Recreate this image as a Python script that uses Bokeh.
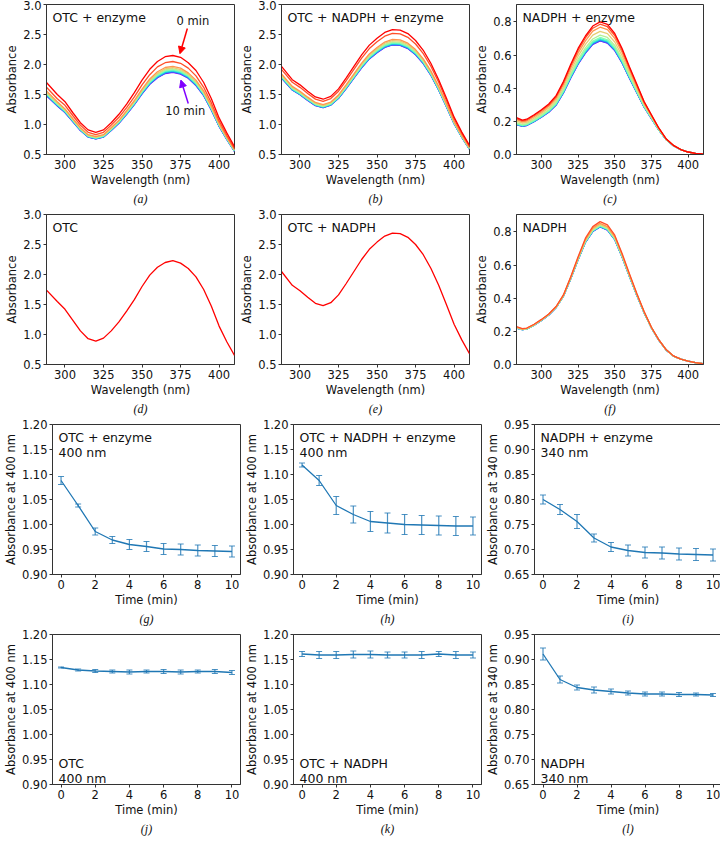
from bokeh.plotting import figure
from bokeh.models import (Range1d, FixedTicker, NumeralTickFormatter, Label, Title,
                          Arrow, NormalHead, Whisker, TeeHead, ColumnDataSource)
from bokeh.layouts import column, row
from bokeh.embed import file_html
from bokeh.resources import INLINE

# ---------------------------------------------------------------- data
MINUTES = [0, 1, 2, 3, 4, 5, 6, 7, 8, 9, 10]
CURVE_COLORS = ["#ff0000", "#ff4f28", "#ff964f", "#e6ce74", "#b3f296", "#80ffb4",
                "#4df2ce", "#1acee3", "#1a96f2", "#4d4ffc", "#8000ff"]

WL_OTC = [288, 295, 300, 305, 310, 315, 320, 325, 330, 335, 340, 345, 350, 355, 360,
          365, 370, 375, 380, 385, 390, 395, 400, 405, 410]
WL_NADPH = [283, 287, 290, 295, 300, 305, 310, 315, 320, 325, 330, 335, 340, 345, 350,
            355, 360, 365, 370, 375, 380, 385, 390, 395, 400, 405, 410]

# (a) OTC + enzyme, one row per minute 0..10
SPEC_OTC_ENZ = [
    [1.70, 1.50, 1.38, 1.20, 1.03, 0.91, 0.87, 0.91, 1.03, 1.17, 1.34, 1.53, 1.74, 1.92, 2.05, 2.13, 2.15, 2.12, 2.03, 1.90, 1.70, 1.43, 1.11, 0.86, 0.63],
    [1.62, 1.43, 1.32, 1.15, 0.99, 0.87, 0.83, 0.87, 0.99, 1.12, 1.28, 1.46, 1.66, 1.83, 1.96, 2.03, 2.05, 2.02, 1.94, 1.81, 1.62, 1.36, 1.06, 0.82, 0.60],
    [1.56, 1.38, 1.26, 1.10, 0.95, 0.83, 0.80, 0.83, 0.95, 1.07, 1.23, 1.40, 1.59, 1.76, 1.88, 1.95, 1.97, 1.94, 1.86, 1.74, 1.56, 1.31, 1.02, 0.79, 0.58],
    [1.539, 1.361, 1.249, 1.091, 0.935, 0.822, 0.790, 0.822, 0.935, 1.061, 1.216, 1.384, 1.572, 1.738, 1.853, 1.926, 1.946, 1.916, 1.840, 1.718, 1.539, 1.291, 1.008, 0.780, 0.572],
    [1.526, 1.350, 1.238, 1.082, 0.927, 0.815, 0.783, 0.815, 0.927, 1.052, 1.206, 1.372, 1.558, 1.723, 1.837, 1.909, 1.929, 1.899, 1.825, 1.703, 1.526, 1.280, 0.999, 0.773, 0.567],
    [1.515, 1.340, 1.229, 1.074, 0.921, 0.809, 0.778, 0.809, 0.921, 1.044, 1.197, 1.362, 1.547, 1.710, 1.823, 1.895, 1.915, 1.885, 1.812, 1.690, 1.515, 1.270, 0.992, 0.768, 0.563],
    [1.506, 1.333, 1.222, 1.068, 0.916, 0.804, 0.773, 0.804, 0.916, 1.038, 1.190, 1.354, 1.538, 1.700, 1.812, 1.884, 1.904, 1.874, 1.801, 1.680, 1.506, 1.263, 0.987, 0.763, 0.560],
    [1.498, 1.325, 1.214, 1.062, 0.910, 0.800, 0.769, 0.800, 0.910, 1.032, 1.184, 1.346, 1.528, 1.690, 1.802, 1.872, 1.892, 1.862, 1.791, 1.670, 1.498, 1.255, 0.981, 0.759, 0.556],
    [1.491, 1.320, 1.209, 1.058, 0.907, 0.796, 0.766, 0.796, 0.907, 1.028, 1.179, 1.340, 1.522, 1.683, 1.794, 1.864, 1.884, 1.854, 1.783, 1.663, 1.491, 1.250, 0.977, 0.756, 0.554],
    [1.484, 1.314, 1.204, 1.053, 0.903, 0.792, 0.762, 0.792, 0.903, 1.023, 1.173, 1.334, 1.515, 1.675, 1.785, 1.856, 1.876, 1.846, 1.775, 1.655, 1.484, 1.244, 0.973, 0.752, 0.552],
    [1.48, 1.31, 1.20, 1.05, 0.90, 0.79, 0.76, 0.79, 0.90, 1.02, 1.17, 1.33, 1.51, 1.67, 1.78, 1.85, 1.87, 1.84, 1.77, 1.65, 1.48, 1.24, 0.97, 0.75, 0.55],
]

# (b) OTC + NADPH + enzyme, minutes 0..10
SPEC_OTC_NADPH_ENZ = [
    [1.968, 1.747, 1.661, 1.555, 1.459, 1.421, 1.469, 1.594, 1.776, 1.968, 2.160, 2.323, 2.438, 2.534, 2.582, 2.573, 2.515, 2.400, 2.237, 2.016, 1.747, 1.440, 1.123, 0.874, 0.653],
    [1.919, 1.704, 1.619, 1.517, 1.423, 1.386, 1.432, 1.555, 1.732, 1.919, 2.107, 2.266, 2.378, 2.472, 2.519, 2.509, 2.453, 2.342, 2.181, 1.967, 1.704, 1.405, 1.095, 0.852, 0.637],
    [1.843, 1.636, 1.555, 1.456, 1.367, 1.331, 1.375, 1.493, 1.663, 1.843, 2.023, 2.176, 2.284, 2.374, 2.419, 2.410, 2.356, 2.249, 2.095, 1.889, 1.636, 1.349, 1.052, 0.818, 0.611],
    [1.828, 1.622, 1.542, 1.444, 1.355, 1.319, 1.364, 1.480, 1.649, 1.828, 2.006, 2.157, 2.264, 2.354, 2.399, 2.389, 2.336, 2.230, 2.077, 1.873, 1.622, 1.338, 1.043, 0.811, 0.606],
    [1.812, 1.609, 1.529, 1.432, 1.344, 1.308, 1.352, 1.468, 1.635, 1.812, 1.989, 2.139, 2.245, 2.334, 2.378, 2.369, 2.316, 2.211, 2.059, 1.857, 1.609, 1.327, 1.034, 0.804, 0.601],
    [1.802, 1.600, 1.521, 1.424, 1.337, 1.301, 1.345, 1.460, 1.626, 1.802, 1.978, 2.128, 2.233, 2.322, 2.365, 2.356, 2.303, 2.199, 2.048, 1.847, 1.600, 1.319, 1.029, 0.800, 0.598],
    [1.794, 1.593, 1.514, 1.418, 1.331, 1.296, 1.339, 1.453, 1.619, 1.794, 1.970, 2.118, 2.224, 2.312, 2.355, 2.346, 2.293, 2.189, 2.039, 1.839, 1.593, 1.314, 1.024, 0.796, 0.595],
    [1.787, 1.586, 1.507, 1.412, 1.325, 1.290, 1.333, 1.447, 1.612, 1.787, 1.961, 2.109, 2.214, 2.302, 2.345, 2.336, 2.283, 2.180, 2.030, 1.831, 1.586, 1.308, 1.020, 0.793, 0.593],
    [1.781, 1.581, 1.503, 1.407, 1.321, 1.286, 1.329, 1.442, 1.607, 1.781, 1.955, 2.102, 2.207, 2.294, 2.337, 2.328, 2.276, 2.173, 2.024, 1.825, 1.581, 1.304, 1.016, 0.790, 0.591],
    [1.777, 1.577, 1.499, 1.404, 1.318, 1.283, 1.326, 1.439, 1.604, 1.777, 1.950, 2.098, 2.202, 2.289, 2.332, 2.323, 2.271, 2.168, 2.019, 1.821, 1.577, 1.301, 1.014, 0.789, 0.589],
    [1.773, 1.574, 1.496, 1.401, 1.315, 1.280, 1.323, 1.436, 1.600, 1.773, 1.946, 2.093, 2.197, 2.284, 2.327, 2.318, 2.266, 2.163, 2.015, 1.817, 1.574, 1.298, 1.012, 0.787, 0.588],
]

# (c) NADPH + enzyme, minutes 0..10
SPEC_NADPH_ENZ = [
    [0.222, 0.207, 0.213, 0.240, 0.270, 0.305, 0.355, 0.440, 0.545, 0.640, 0.715, 0.775, 0.800, 0.785, 0.730, 0.640, 0.530, 0.425, 0.320, 0.240, 0.160, 0.095, 0.055, 0.030, 0.015, 0.007, 0.003],
    [0.217, 0.203, 0.208, 0.235, 0.265, 0.299, 0.348, 0.432, 0.535, 0.629, 0.703, 0.762, 0.786, 0.771, 0.718, 0.629, 0.522, 0.419, 0.316, 0.237, 0.159, 0.094, 0.055, 0.030, 0.015, 0.007, 0.003],
    [0.210, 0.197, 0.202, 0.228, 0.257, 0.291, 0.339, 0.421, 0.522, 0.613, 0.686, 0.744, 0.768, 0.753, 0.701, 0.615, 0.511, 0.410, 0.310, 0.234, 0.157, 0.094, 0.054, 0.030, 0.015, 0.007, 0.003],
    [0.201, 0.189, 0.194, 0.219, 0.248, 0.280, 0.327, 0.406, 0.504, 0.593, 0.664, 0.720, 0.743, 0.729, 0.679, 0.596, 0.496, 0.399, 0.303, 0.229, 0.154, 0.093, 0.054, 0.030, 0.015, 0.007, 0.003],
    [0.193, 0.181, 0.186, 0.211, 0.239, 0.270, 0.315, 0.392, 0.487, 0.574, 0.643, 0.697, 0.720, 0.706, 0.658, 0.578, 0.482, 0.389, 0.296, 0.224, 0.152, 0.092, 0.054, 0.029, 0.015, 0.007, 0.003],
    [0.188, 0.177, 0.182, 0.206, 0.233, 0.264, 0.308, 0.384, 0.477, 0.562, 0.631, 0.684, 0.706, 0.692, 0.646, 0.568, 0.473, 0.382, 0.292, 0.221, 0.150, 0.091, 0.053, 0.029, 0.015, 0.007, 0.003],
    [0.185, 0.174, 0.180, 0.203, 0.230, 0.261, 0.305, 0.380, 0.472, 0.556, 0.624, 0.677, 0.699, 0.686, 0.639, 0.563, 0.469, 0.379, 0.290, 0.220, 0.149, 0.091, 0.053, 0.029, 0.015, 0.007, 0.003],
    [0.183, 0.173, 0.178, 0.201, 0.229, 0.259, 0.303, 0.377, 0.469, 0.553, 0.620, 0.673, 0.694, 0.681, 0.635, 0.559, 0.467, 0.377, 0.289, 0.219, 0.149, 0.090, 0.053, 0.029, 0.015, 0.007, 0.003],
    [0.182, 0.172, 0.177, 0.200, 0.227, 0.258, 0.301, 0.375, 0.466, 0.550, 0.617, 0.670, 0.691, 0.678, 0.632, 0.556, 0.464, 0.376, 0.288, 0.218, 0.149, 0.090, 0.053, 0.029, 0.015, 0.007, 0.003],
    [0.181, 0.171, 0.176, 0.199, 0.226, 0.256, 0.299, 0.373, 0.464, 0.547, 0.614, 0.666, 0.687, 0.674, 0.629, 0.554, 0.462, 0.374, 0.287, 0.217, 0.148, 0.090, 0.053, 0.029, 0.015, 0.007, 0.003],
    [0.180, 0.170, 0.175, 0.198, 0.225, 0.255, 0.298, 0.372, 0.462, 0.545, 0.612, 0.664, 0.685, 0.672, 0.627, 0.552, 0.461, 0.373, 0.286, 0.217, 0.148, 0.090, 0.053, 0.029, 0.015, 0.007, 0.003],
]

# (d) OTC alone (all minutes overlap)
SPEC_OTC = [1.74, 1.55, 1.42, 1.24, 1.06, 0.93, 0.89, 0.94, 1.06, 1.21, 1.39, 1.58, 1.80, 1.99,
            2.12, 2.20, 2.23, 2.19, 2.10, 1.96, 1.75, 1.47, 1.14, 0.88, 0.65]
# (e) OTC + NADPH (all minutes overlap)
SPEC_OTC_NADPH = [2.05, 1.82, 1.73, 1.62, 1.52, 1.48, 1.53, 1.66, 1.85, 2.05, 2.25, 2.42, 2.54, 2.64,
                  2.69, 2.68, 2.62, 2.50, 2.33, 2.10, 1.82, 1.50, 1.17, 0.91, 0.68]

# (f) NADPH alone, minutes 1..10
SPEC_NADPH_MINUTES = [1, 2, 3, 4, 5, 6, 7, 8, 9, 10]
SPEC_NADPH = [
    [0.228, 0.216, 0.220, 0.243, 0.272, 0.305, 0.350, 0.420, 0.530, 0.650, 0.762, 0.832, 0.862, 0.842, 0.780, 0.670, 0.548, 0.430, 0.320, 0.225, 0.150, 0.090, 0.052, 0.032, 0.021, 0.011, 0.005],
    [0.226, 0.214, 0.218, 0.241, 0.270, 0.303, 0.348, 0.418, 0.526, 0.644, 0.754, 0.823, 0.852, 0.832, 0.772, 0.663, 0.543, 0.426, 0.318, 0.223, 0.149, 0.089, 0.052, 0.032, 0.021, 0.011, 0.005],
    [0.224, 0.213, 0.217, 0.240, 0.269, 0.302, 0.346, 0.416, 0.524, 0.640, 0.749, 0.816, 0.845, 0.826, 0.766, 0.658, 0.539, 0.424, 0.316, 0.222, 0.148, 0.089, 0.051, 0.032, 0.021, 0.011, 0.005],
    [0.222, 0.212, 0.216, 0.239, 0.268, 0.301, 0.345, 0.414, 0.522, 0.638, 0.745, 0.811, 0.840, 0.821, 0.761, 0.655, 0.536, 0.422, 0.314, 0.222, 0.148, 0.089, 0.051, 0.032, 0.021, 0.011, 0.005],
    [0.222, 0.211, 0.215, 0.238, 0.267, 0.300, 0.345, 0.414, 0.521, 0.636, 0.743, 0.809, 0.837, 0.818, 0.759, 0.653, 0.535, 0.421, 0.314, 0.221, 0.148, 0.088, 0.051, 0.032, 0.021, 0.011, 0.005],
    [0.221, 0.211, 0.215, 0.238, 0.267, 0.300, 0.344, 0.413, 0.520, 0.635, 0.741, 0.807, 0.835, 0.816, 0.757, 0.652, 0.534, 0.420, 0.313, 0.221, 0.147, 0.088, 0.051, 0.032, 0.021, 0.011, 0.005],
    [0.221, 0.211, 0.215, 0.238, 0.267, 0.300, 0.344, 0.413, 0.519, 0.634, 0.739, 0.805, 0.833, 0.814, 0.755, 0.650, 0.533, 0.419, 0.313, 0.220, 0.147, 0.088, 0.051, 0.032, 0.021, 0.011, 0.005],
    [0.220, 0.210, 0.214, 0.237, 0.266, 0.299, 0.343, 0.412, 0.519, 0.633, 0.739, 0.804, 0.832, 0.813, 0.755, 0.649, 0.532, 0.419, 0.312, 0.220, 0.147, 0.088, 0.051, 0.032, 0.021, 0.011, 0.005],
    [0.220, 0.210, 0.214, 0.237, 0.266, 0.299, 0.343, 0.412, 0.518, 0.633, 0.738, 0.803, 0.831, 0.812, 0.754, 0.649, 0.532, 0.418, 0.312, 0.220, 0.147, 0.088, 0.051, 0.032, 0.021, 0.011, 0.005],
    [0.220, 0.210, 0.214, 0.237, 0.266, 0.299, 0.343, 0.412, 0.518, 0.632, 0.737, 0.802, 0.830, 0.811, 0.753, 0.648, 0.531, 0.418, 0.312, 0.220, 0.147, 0.088, 0.051, 0.032, 0.021, 0.011, 0.005],
]

# time courses (mean, error) at 0..10 min
KIN_G_MEAN = [1.088, 1.038, 0.986, 0.969, 0.960, 0.956, 0.951, 0.950, 0.948, 0.947, 0.946]
KIN_G_ERR = [0.008, 0.003, 0.007, 0.007, 0.010, 0.010, 0.011, 0.011, 0.011, 0.011, 0.011]
KIN_H_MEAN = [1.119, 1.088, 1.038, 1.020, 1.006, 1.003, 1.000, 0.999, 0.998, 0.997, 0.997]
KIN_H_ERR = [0.004, 0.010, 0.018, 0.017, 0.020, 0.020, 0.020, 0.019, 0.019, 0.019, 0.018]
KIN_I_MEAN = [0.800, 0.780, 0.756, 0.723, 0.705, 0.698, 0.694, 0.693, 0.691, 0.690, 0.689]
KIN_I_ERR = [0.009, 0.010, 0.014, 0.008, 0.009, 0.011, 0.011, 0.012, 0.012, 0.012, 0.012]
KIN_J_MEAN = [1.134, 1.129, 1.127, 1.126, 1.125, 1.126, 1.126, 1.125, 1.126, 1.126, 1.124]
KIN_J_ERR = [0.001, 0.002, 0.003, 0.003, 0.004, 0.003, 0.004, 0.004, 0.003, 0.004, 0.004]
KIN_K_MEAN = [1.161, 1.159, 1.159, 1.160, 1.160, 1.159, 1.159, 1.159, 1.161, 1.159, 1.159]
KIN_K_ERR = [0.005, 0.007, 0.007, 0.007, 0.007, 0.006, 0.006, 0.007, 0.005, 0.007, 0.006]
KIN_L_MEAN = [0.911, 0.860, 0.844, 0.839, 0.836, 0.833, 0.831, 0.831, 0.830, 0.830, 0.829]
KIN_L_ERR = [0.012, 0.007, 0.005, 0.006, 0.005, 0.004, 0.004, 0.004, 0.004, 0.003, 0.003]

WL_TICKS = [300, 325, 350, 375, 400]
ABS_TICKS_OTC = [0.5, 1.0, 1.5, 2.0, 2.5, 3.0]
ABS_TICKS_NADPH = [0.0, 0.2, 0.4, 0.6, 0.8]
TIME_TICKS = [0, 2, 4, 6, 8, 10]
KIN_TICKS_400 = [0.90, 0.95, 1.00, 1.05, 1.10, 1.15, 1.20]
KIN_TICKS_340 = [0.65, 0.70, 0.75, 0.80, 0.85, 0.90, 0.95]

# ---------------------------------------------------------------- style
FONT = "DejaVu Sans"
CAPTION_FONT = "Liberation Serif"
AXIS_COLOR = "#333333"
TEXT_COLOR = "#111111"
KIN_COLOR = "#1f77b4"
TICK_FONT = "11.5px"
FRAME_H = 150
LEFT = 46
RANGE_OTC_X = (288, 410)
RANGE_NADPH_X = (283, 410.5)
RANGE_OTC_Y = (0.5, 3.0)
RANGE_NADPH_Y = (0.0, 0.905)
RANGE_T = (-0.5, 10.5)
RANGE_400 = (0.90, 1.20)
RANGE_340 = (0.65, 0.95)


def styled(xr, yr, xticks, yticks, yfmt, xlabel, ylabel, caption, top, fw):
    p = figure(frame_width=fw, frame_height=FRAME_H,
               x_range=Range1d(*xr), y_range=Range1d(*yr),
               output_backend="svg", toolbar_location=None,
               min_border_left=LEFT, min_border_right=1, min_border_top=top,
               min_border_bottom=0,
               background_fill_color="white", border_fill_color="white")
    p.outline_line_color = AXIS_COLOR
    p.outline_line_width = 1
    p.xgrid.visible = False
    p.ygrid.visible = False
    p.xaxis.ticker = FixedTicker(ticks=xticks)
    p.yaxis.ticker = FixedTicker(ticks=yticks)
    p.yaxis.formatter = NumeralTickFormatter(format=yfmt)
    p.xaxis.axis_label = xlabel
    p.yaxis.axis_label = ylabel
    for ax in (p.xaxis[0], p.yaxis[0]):
        ax.axis_line_color = AXIS_COLOR
        ax.major_tick_line_color = AXIS_COLOR
        ax.major_tick_out = 3
        ax.major_tick_in = 0
        ax.minor_tick_line_color = None
        ax.major_label_text_font = FONT
        ax.major_label_text_font_size = TICK_FONT
        ax.major_label_text_color = TEXT_COLOR
        ax.major_label_standoff = 2
        ax.axis_label_text_font = FONT
        ax.axis_label_text_font_size = TICK_FONT
        ax.axis_label_text_font_style = "normal"
        ax.axis_label_text_color = TEXT_COLOR
        ax.axis_label_standoff = 1
    p.add_layout(Title(text=caption, align="center", text_font=CAPTION_FONT,
                       text_font_style="italic", text_font_size="12px",
                       text_color=TEXT_COLOR, standoff=1), "below")
    return p


def add_text(p, xr, yr, lines, at_top):
    n = len(lines)
    for i, txt in enumerate(lines):
        if at_top:
            lab = Label(x=xr[0], y=yr[1], x_offset=6, y_offset=-5 - 15 * i, text=txt,
                        text_baseline="top")
        else:
            lab = Label(x=xr[0], y=yr[0], x_offset=6, y_offset=6 + 15 * (n - 1 - i), text=txt,
                        text_baseline="alphabetic")
        lab.text_font = FONT
        lab.text_font_size = "12.5px"
        lab.text_color = TEXT_COLOR
        p.add_layout(lab)


def spectrum_panel(wl, rows, minutes, xr, yr, yticks, caption, lines, top, fw):
    p = styled(xr, yr, WL_TICKS, yticks, "0.0", "Wavelength (nm)", "Absorbance",
               caption, top, fw)
    for vals, m in reversed(list(zip(rows, minutes))):
        p.line(wl, vals, line_color=CURVE_COLORS[m], line_width=1.3)
    add_text(p, xr, yr, lines, True)
    return p


def kinetic_panel(mean, err, yr, yticks, ylabel, caption, lines, at_top, top, fw):
    p = styled(RANGE_T, yr, TIME_TICKS, yticks, "0.00", "Time (min)", ylabel,
               caption, top, fw)
    src = ColumnDataSource(dict(t=MINUTES, mean=mean,
                                lower=[m - e for m, e in zip(mean, err)],
                                upper=[m + e for m, e in zip(mean, err)]))
    head = dict(size=6, line_color=KIN_COLOR, line_width=1.2, line_alpha=0.8)
    p.add_layout(Whisker(source=src, base="t", lower="lower", upper="upper",
                         line_color=KIN_COLOR, line_width=1.2, line_alpha=0.8,
                         upper_head=TeeHead(**head), lower_head=TeeHead(**head)))
    p.line("t", "mean", source=src, line_color=KIN_COLOR, line_width=1.3)
    add_text(p, RANGE_T, yr, lines, at_top)
    return p


FW = [188, 188, 187]
TOP_FIRST = 4
TOP_REST = 8

pa = spectrum_panel(WL_OTC, SPEC_OTC_ENZ, MINUTES, RANGE_OTC_X, RANGE_OTC_Y, ABS_TICKS_OTC,
                    "(a)", ["OTC + enzyme"], TOP_FIRST, FW[0])
# annotations of panel (a)
pa.add_layout(Label(x=383, y=2.72, text="0 min", text_align="center", text_baseline="middle",
                    text_font=FONT, text_font_size="11.5px", text_color=TEXT_COLOR))
pa.add_layout(Label(x=378, y=1.22, text="10 min", text_align="center", text_baseline="middle",
                    text_font=FONT, text_font_size="11.5px", text_color=TEXT_COLOR))
pa.add_layout(Arrow(end=NormalHead(size=7, fill_color="#ff0000", line_color="#ff0000"),
                    x_start=379.4, y_start=2.60, x_end=374.6, y_end=2.18,
                    line_color="#ff0000", line_width=1.5))
pa.add_layout(Arrow(end=NormalHead(size=7, fill_color="#8000ff", line_color="#8000ff"),
                    x_start=380, y_start=1.35, x_end=375.2, y_end=1.74,
                    line_color="#8000ff", line_width=1.5))

pb = spectrum_panel(WL_OTC, SPEC_OTC_NADPH_ENZ, MINUTES, RANGE_OTC_X, RANGE_OTC_Y, ABS_TICKS_OTC,
                    "(b)", ["OTC + NADPH + enzyme"], TOP_FIRST, FW[1])
pc = spectrum_panel(WL_NADPH, SPEC_NADPH_ENZ, MINUTES, RANGE_NADPH_X, RANGE_NADPH_Y,
                    ABS_TICKS_NADPH, "(c)", ["NADPH + enzyme"], TOP_FIRST, FW[2])
pd = spectrum_panel(WL_OTC, [SPEC_OTC], [0], RANGE_OTC_X, RANGE_OTC_Y, ABS_TICKS_OTC,
                    "(d)", ["OTC"], TOP_REST, FW[0])
pe = spectrum_panel(WL_OTC, [SPEC_OTC_NADPH], [0], RANGE_OTC_X, RANGE_OTC_Y, ABS_TICKS_OTC,
                    "(e)", ["OTC + NADPH"], TOP_REST, FW[1])
pf = spectrum_panel(WL_NADPH, SPEC_NADPH, SPEC_NADPH_MINUTES, RANGE_NADPH_X, RANGE_NADPH_Y,
                    ABS_TICKS_NADPH, "(f)", ["NADPH"], TOP_REST, FW[2])

pg = kinetic_panel(KIN_G_MEAN, KIN_G_ERR, RANGE_400, KIN_TICKS_400, "Absorbance at 400 nm",
                   "(g)", ["OTC + enzyme", "400 nm"], True, TOP_REST, FW[0])
ph = kinetic_panel(KIN_H_MEAN, KIN_H_ERR, RANGE_400, KIN_TICKS_400, "Absorbance at 400 nm",
                   "(h)", ["OTC + NADPH + enzyme", "400 nm"], True, TOP_REST, FW[1])
pi = kinetic_panel(KIN_I_MEAN, KIN_I_ERR, RANGE_340, KIN_TICKS_340, "Absorbance at 340 nm",
                   "(i)", ["NADPH + enzyme", "340 nm"], True, TOP_REST, FW[2])
pj = kinetic_panel(KIN_J_MEAN, KIN_J_ERR, RANGE_400, KIN_TICKS_400, "Absorbance at 400 nm",
                   "(j)", ["OTC", "400 nm"], False, TOP_REST, FW[0])
pk = kinetic_panel(KIN_K_MEAN, KIN_K_ERR, RANGE_400, KIN_TICKS_400, "Absorbance at 400 nm",
                   "(k)", ["OTC + NADPH", "400 nm"], False, TOP_REST, FW[1])
pl = kinetic_panel(KIN_L_MEAN, KIN_L_ERR, RANGE_340, KIN_TICKS_340, "Absorbance at 340 nm",
                   "(l)", ["NADPH", "340 nm"], False, TOP_REST, FW[2])

layout = column(row(pa, pb, pc), row(pd, pe, pf), row(pg, ph, pi), row(pj, pk, pl))

with open("out.html", "w") as fh:
    fh.write(file_html(layout, INLINE))
